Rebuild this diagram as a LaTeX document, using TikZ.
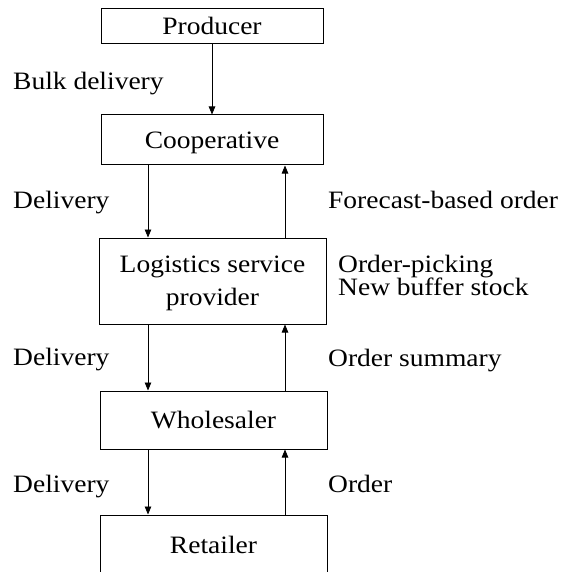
\documentclass[tikz,border=0pt]{standalone}
\usepackage{fontspec}
\setmainfont{Liberation Serif}[FakeStretch=1.1]
\usetikzlibrary{arrows.meta}
\begin{document}
\begin{tikzpicture}[x=1pt, y=-1pt,
  stage/.style={draw, line width=1pt, inner sep=0pt, align=center,
    font=\fontsize{25}{33}\selectfont, text height=16.5pt, text depth=0pt},
  lbl/.style={anchor=base west, inner sep=0pt, align=left,
    font=\fontsize{25}{23.5}\selectfont},
  flow/.style={line width=0.8pt, -{Triangle[length=8pt, width=6.5pt]}}]
  \useasboundingbox (0,0) rectangle (563,572);

  % stages of the chain
  \node[stage, minimum width=222pt, minimum height=35pt]  (prod) at (212,26.5)  {Producer};
  \node[stage, minimum width=222pt, minimum height=50pt]  (coop) at (212,140)   {Cooperative};
  \node[stage, minimum width=227pt, minimum height=86pt, text height=49.5pt]
    (lsp) at (212.5,281) {Logistics service\\provider};
  \node[stage, minimum width=227pt, minimum height=58pt]  (whs)  at (213.5,420) {Wholesaler};
  \node[stage, minimum width=227pt, minimum height=61pt]  (ret)  at (213.5,545.5) {Retailer};

  % columns of the downward and upward flows
  \coordinate (dn) at (148,0);
  \coordinate (up) at (285,0);

  % goods flow
  \draw[flow] (prod.south) -- (coop.north);
  \draw[flow] (coop.south -| dn) -- (lsp.north -| dn);
  \draw[flow] (lsp.south -| dn) -- (whs.north -| dn);
  \draw[flow] (whs.south -| dn) -- (ret.north -| dn);

  % order flow
  \draw[flow] (lsp.north -| up) -- (coop.south -| up);
  \draw[flow] (whs.north -| up) -- (lsp.south -| up);
  \draw[flow] (ret.north -| up) -- (whs.south -| up);

  % flow labels (a two-line label sits on its last baseline)
  \node[lbl] (l1) at (13,90)   {Bulk delivery};
  \node[lbl] (l2) at (13,208)  {Delivery};
  \node[lbl] (l3) at (13,365)  {Delivery};
  \node[lbl] (l4) at (13,492)  {Delivery};
  \node[lbl] (r1) at (328,208) {Forecast-based order};
  \node[lbl] (r2) at (338,295.5) {Order-picking\\New buffer stock};
  \node[lbl] (r3) at (328,366) {Order summary};
  \node[lbl] (r4) at (328,492) {Order};
\end{tikzpicture}
\end{document}
